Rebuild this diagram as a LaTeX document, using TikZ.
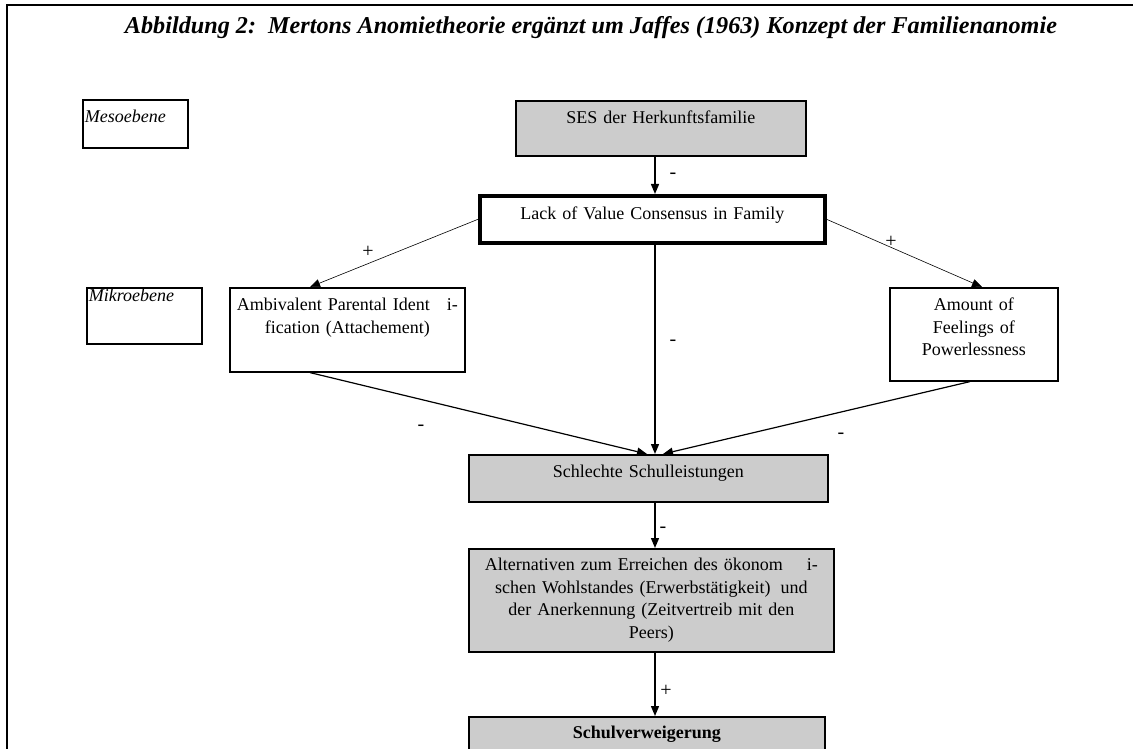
\documentclass[tikz,border=0pt]{standalone}
\usepackage{fontspec}
\setmainfont{Liberation Serif}
\usepackage{tikz}
\usetikzlibrary{arrows.meta,positioning}
\definecolor{BoxGrey}{HTML}{CCCCCC}

\begin{document}
\begin{tikzpicture}[x=1pt,y=-1pt,
  box/.style={draw,line width=1.6pt,anchor=north west,inner xsep=4pt,inner ysep=0pt,
    align=center,font=\fontsize{18}{22.5}\selectfont},
  gbox/.style={box,fill=BoxGrey},
  lvl/.style={box,inner xsep=2pt,align=left,font=\fontsize{18}{22}\selectfont\itshape},
  title/.style={font=\fontsize{24.2}{28}\selectfont\bfseries\itshape,anchor=base},
  sign/.style={font=\fontsize{20}{24}\selectfont,inner sep=0pt},
  arr/.style={-{Triangle[length=10pt,width=8pt]},line width=1.4pt},
  tarr/.style={arr,line width=0.6pt}
]
  \clip (0,0) rectangle (1133,749);
  % frame and title
  \draw[line width=1.5pt] (1133,5) -- (7,5) -- (7,760);
  \node[title] (title) at (591,34)
    {Abbildung 2:\ \ Mertons Anomietheorie ergänzt um Jaffes (1963) Konzept der Familienanomie};

  % levels
  \node[lvl,text width=101pt,text height=23pt,text depth=25pt] (meso) at (82,99) {Mesoebene};
  \node[lvl,text width=111pt,text height=14pt,text depth=42pt] (mikro) at (86,287) {Mikroebene};

  % boxes
  \coordinate (axis) at (655,0);
  \node[gbox,text width=282pt,text height=23pt,text depth=32pt] (ses) at (515,100)
    {SES der Herkunftsfamilie};
  \node[box,line width=3.6pt,text width=337pt,text height=24pt,text depth=23pt] (lack) at (478,194)
    {Lack of Value Consensus in Family};
  \node[box,inner xsep=2pt,text width=231pt,text height=23pt,text depth=61pt] (amb) at (229,287)
    {Ambivalent Parental Ident\hspace{17pt}i-\\fication (Attachement)};
  \node[box,text width=160pt,text height=23pt,text depth=70pt] (amt) at (889,287)
    {Amount of\\Feelings of\\Powerlessness};
  \node[gbox,text width=351pt,text height=23pt,text depth=24pt] (schl) at (468,454)
    {Schlechte Schulleistungen};
  \node[gbox,text width=357pt,text height=22pt,text depth=81pt] (alt) at (468,548)
    {Alternativen zum Erreichen des ökonom\hspace{24pt}i-\\schen Wohlstandes (Erwerbstätigkeit)\hspace{10pt}und\\der Anerkennung (Zeitvertreib mit den\\Peers)};
  \node[gbox,text width=348pt,text height=22pt,text depth=38pt] (verw) at (468,716)
    {\textbf{Schulverweigerung}};

  % connectors
  \draw[arr] (ses.south -| axis) -- (lack.north -| axis);
  \draw[tarr] (lack.west) -- ([xshift=81pt]amb.north west);
  \draw[tarr] (lack.east) -- ([xshift=93pt]amt.north west);
  \draw[arr] (lack.south -| axis) -- (schl.north -| axis);
  \draw[arr,line width=1.2pt] ([xshift=81pt]amb.south west) -- ([xshift=-8pt]schl.north -| axis);
  \draw[arr,line width=1.2pt] ([xshift=81pt]amt.south west) -- ([xshift=8pt]schl.north -| axis);
  \draw[arr] (schl.south -| axis) -- (alt.north -| axis);
  \draw[arr] (alt.south -| axis) -- (verw.north -| axis);

  % signs
  \node[sign] (s1) at (673,176) {-};
  \node[sign] (s2) at (368,252) {+};
  \node[sign] (s3) at (891,242) {+};
  \node[sign] (s4) at (673,343) {-};
  \node[sign] (s5) at (421,428) {-};
  \node[sign] (s6) at (841,436) {-};
  \node[sign] (s7) at (663,530) {-};
  \node[sign] (s8) at (666,691) {+};
\end{tikzpicture}
\end{document}
